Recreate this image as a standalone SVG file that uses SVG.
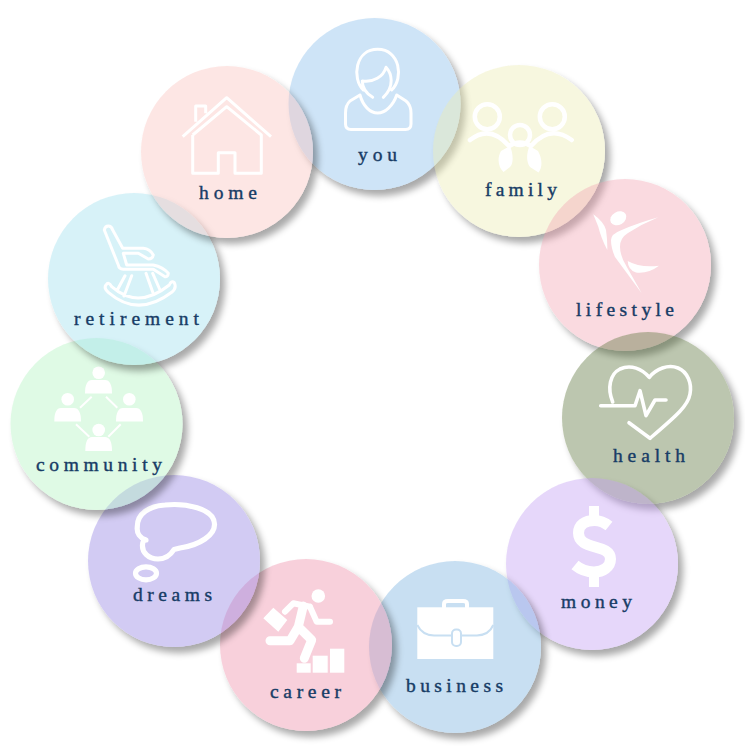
<svg xmlns="http://www.w3.org/2000/svg" width="745" height="746" viewBox="0 0 745 746">
<defs>
<filter id="sh" x="-20%" y="-20%" width="150%" height="150%">
<feComponentTransfer in="SourceAlpha" result="op"><feFuncA type="linear" slope="2.5"/></feComponentTransfer>
<feGaussianBlur in="op" stdDeviation="3.500"/>
<feOffset dx="5" dy="6"/>
<feComponentTransfer result="s"><feFuncA type="linear" slope="0.34"/></feComponentTransfer>
<feComposite in="s" in2="op" operator="out" result="so"/>
<feMerge><feMergeNode in="so"/><feMergeNode in="SourceGraphic"/></feMerge>
</filter>
</defs>
<style>
.c{fill-opacity:.4;filter:url(#sh)}
.l{font-family:"Liberation Serif","Times New Roman",serif;font-size:19.5px;fill:#173c66;stroke:#173c66;stroke-width:.4}
.i{fill:none;stroke:#fff;stroke-width:3;stroke-linecap:round;stroke-linejoin:round}
.f{fill:#fff;stroke:none}
</style>
<rect width="745" height="746" fill="#fff"/>
<g id="you">
<circle class="c" cx="374.500" cy="104" r="86" fill="#85BBEB"/>
<path class="i" d="M372.700 97.300C366 93.300 362.300 88.300 362.300 81C373.300 82.700 383.300 76.700 386 67.300C391.700 73.300 395 86.700 383.300 97.300M363.300 90C351.700 78.300 355 49.300 377.700 49.300C400 49.300 404 78.300 391.700 90M360 95L350 101Q345.500 105 345.500 113V124Q345.500 129.500 351 129.500H405.500Q411 129.500 411 124V113Q411 105 406 101L396.700 95M360 95C363 106 370 113 377.700 113C385 113 393 106 396.700 95"/>
<text class="l" x="358" y="161" textLength="39" lengthAdjust="spacing">you</text>
</g>
<g id="family">
<circle class="c" cx="519" cy="151" r="86" fill="#EBEBAF"/>
<g class="i" style="stroke-width:4.500">
<circle cx="487.300" cy="116.700" r="12.500"/><circle cx="552.300" cy="116.700" r="12.500"/><circle cx="520" cy="135" r="10"/>
<path d="M470 140Q490 124 509 146M571.700 140Q550 124 531 146M509 146Q520 139 531 146"/>
</g>
<path class="f" d="M510 146C513 153 514 163 510 167L503.500 172C498 167 497 158 501 151ZM529.500 146C526.500 153 526 162 530 167L538.500 172.500C543 167 542 158 538 151Z"/>
<text class="l" x="485" y="196" textLength="72" lengthAdjust="spacing">family</text>
</g>
<g id="lifestyle">
<circle class="c" cx="625" cy="265" r="86" fill="#F3A2B1"/>
<ellipse class="f" cx="618.300" cy="218.300" rx="8.500" ry="6.500" transform="rotate(-30 618.300 218.300)"/>
<path class="f" d="M593.300 214.300Q604 222 606 230Q607.500 240 607.300 250Q601 238 598.300 226.700ZM658.300 217.300Q638 223 621.700 230Q611 234 611 240Q611 248 615 257L641.700 293.300L626.700 266.700Q620 256 620 246.700Q620 238 628 233Q642 224 658.300 217.300ZM627.700 261Q640 268 659 265.700Q648 274 636 272.500Q628 270 627.700 261Z"/>
<text class="l" x="576" y="316" textLength="98" lengthAdjust="spacing">lifestyle</text>
</g>
<g id="health">
<circle class="c" cx="648" cy="418" r="86" fill="#577034"/>
<path class="i" style="stroke-width:3.600" d="M612.700 402C607 388 610 374 620 369C631 364 642 369 649.300 377.300C656 369 668 364 678 368C688 372 692 384 690 394C688 406 676 416 650 438.300L629 422.700M600.700 405.700H635L640 390.700L646 415.700L655 400H666"/>
<text class="l" x="613" y="462" textLength="72" lengthAdjust="spacing">health</text>
</g>
<g id="money">
<circle class="c" cx="592" cy="564" r="86" fill="#C09BF2"/>
<path class="i" style="stroke-width:11;stroke-linecap:butt;stroke-linejoin:miter" d="M609 526C604 522 600 520.500 594.500 520.500C585 520.500 578.500 525 578.500 533C578.500 551 610.500 543 610.500 559C610.500 567 603 572 594 572C587 572 581 570 575 565"/>
<path class="f" d="M589 506h10v14h-10zM589 572h10v15h-10z"/>
<text class="l" x="561" y="608" textLength="71" lengthAdjust="spacing">money</text>
</g>
<g id="business">
<circle class="c" cx="455" cy="647" r="86" fill="#75AFDE"/>
<rect class="f" x="417.300" y="607.300" width="76" height="51.700"/>
<path class="i" style="stroke-width:4" d="M444 607V604Q444 601 448 601H463Q467 601 467 604V607"/>
<path fill="none" stroke="#C8DFF2" stroke-width="2" d="M417.300 625Q422 635 434 635.500H452M460 635.500H477Q489 635 493.300 625"/>
<rect x="452" y="629.500" width="9" height="16.500" rx="4" fill="#fff" stroke="#C8DFF2" stroke-width="2"/>
<text class="l" x="406" y="692" textLength="97" lengthAdjust="spacing">business</text>
</g>
<g id="career">
<circle class="c" cx="306" cy="645" r="86" fill="#ED89A5"/>
<circle class="f" cx="318.300" cy="596" r="6.800"/>
<path class="f" d="M273.300 607.700L287.300 620L278.300 631.700L263.300 618.300Z"/>
<path class="i" style="stroke-width:9" d="M303.300 606L298.300 626.700L311.700 640L304.300 658.300M298.300 626.700L290 640.700H270"/>
<path class="i" style="stroke-width:6" d="M310 606.700L293.300 603.300L285 611.700M310 606.700L316.700 621.700H330"/>
<rect class="f" x="296.700" y="663.300" width="14" height="9.400"/><rect class="f" x="312.700" y="655.700" width="15" height="17"/><rect class="f" x="330" y="648.700" width="14.300" height="24"/>
<text class="l" x="270" y="698" textLength="71" lengthAdjust="spacing">career</text>
</g>
<g id="dreams">
<circle class="c" cx="174" cy="561" r="86" fill="#8E7DE1"/>
<g class="i" style="stroke-width:5.200">
<path d="M137.300 527C137 513 150 506 165 505C185 503 214 508 214.500 524C215 535 200 545 180 548L174 549.500C170 556 165 559 158 559C148 559 142 552 142.500 545C142.500 542 144 540 146 540C140 538 136.500 533 137.300 527Z"/>
<ellipse cx="146" cy="573.300" rx="10.500" ry="6.500"/>
</g>
<text class="l" x="133" y="601" textLength="79" lengthAdjust="spacing">dreams</text>
</g>
<g id="community">
<circle class="c" cx="96.500" cy="424" r="86" fill="#AFF2BE"/>
<circle class="f" cx="98.700" cy="372.700" r="6.300"/><path class="f" d="M85 393.500Q85 380 92 380H105Q112 380 112 393.500Z"/>
<circle class="f" cx="67.700" cy="399.300" r="6.300"/><path class="f" d="M54.300 421.500Q54.300 408 61 408H74Q81 408 81 421.500Z"/>
<circle class="f" cx="129.300" cy="399.300" r="6.300"/><path class="f" d="M116 421.500Q116 408 123 408H136Q143 408 143 421.500Z"/>
<circle class="f" cx="98.700" cy="430" r="6.300"/><path class="f" d="M85.300 451Q85.300 437 92 437H105Q112 437 112 451Z"/>
<path class="i" style="stroke-width:2;stroke-linecap:butt" d="M80 407.700L91.700 396.700M106 396.700L117.300 407.700M76 424.300L89.300 436.700M120.700 424.300L108.300 436.700"/>
<text class="l" x="36" y="471" textLength="126" lengthAdjust="spacing">community</text>
</g>
<g id="retirement">
<circle class="c" cx="134" cy="279" r="86" fill="#9BDEED"/>
<path class="i" d="M104.300 230Q105 226 108.300 226Q111.500 226 112.700 230L122.700 248.300H143.300Q150 249 153.300 255Q152.500 259 148.300 259L138.300 253.300H123.300L126.700 265H153.300Q163 267 168.300 273.300Q168 277 165 276.700L153.300 269.300H123.300Q119 269 118.300 265ZM125 275.700L117.300 290M131.700 275.700L124 296M146 273.300L152.700 292M152.700 273.300L160 290M106 285Q103.500 288 108.300 292.300Q138 318 171.700 292.300Q177 288 174.300 282.700Q171.500 280 169.300 285Q138 310 111.700 286.700Q108.500 281 106 285Z"/>
<text class="l" x="74" y="325" textLength="125" lengthAdjust="spacing">retirement</text>
</g>
<g id="home">
<circle class="c" cx="227" cy="152" r="86" fill="#FAC0BB"/>
<path class="i" style="stroke-linecap:butt" d="M182.700 136.700L226.700 97.700L271 136.700M192.700 135L226.700 106.700L261.300 135V173.300H235V152.700H218.300V173.300H192.700V135M195.700 121.700V106H205.700V113.300"/>
<text class="l" x="199" y="199" textLength="58" lengthAdjust="spacing">home</text>
</g>
</svg>
